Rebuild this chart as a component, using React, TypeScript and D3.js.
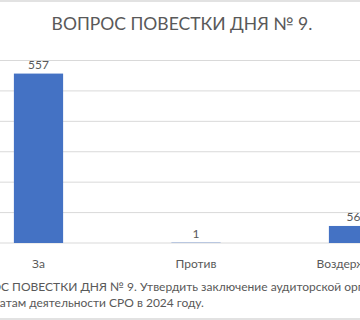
import React from "react";
import * as d3 from "d3";

const categories = ["За", "Против", "Воздержался"];
const values = [557, 1, 56];
const yTicks = [0, 100, 200, 300, 400, 500, 600];
const chartTitle = "ВОПРОС ПОВЕСТКИ ДНЯ № 9.";
const legendLines = [
  "ВОПРОС ПОВЕСТКИ ДНЯ № 9. Утвердить заключение аудиторской организации по",
  "результатам деятельности СРО в 2024 году.",
];

const W = 360;
const H = 320;
const FONT = "Lato, 'Open Sans', sans-serif";
const TEXT = "#595959";
const GRID = "#d9d9d9";
const BAR = "#4472C4";

export default function App() {
  const x = d3
    .scaleBand<string>()
    .domain(categories)
    .range([-40.25, 432.25])
    .paddingInner(0.6875)
    .paddingOuter(0.34375);
  const y = d3.scaleLinear().domain([0, 600]).range([243, 60.5]);

  return (
    <div style={{ position: "fixed", left: 0, top: 0, width: W, height: H, background: "#fff" }}>
      <svg width={W} height={H} style={{ display: "block", fontFamily: FONT }}>
        <rect x={0} y={0} width={W} height={H} fill="#fff" />
        <line x1={-10} x2={W + 10} y1={1} y2={1} stroke={GRID} strokeWidth={1.5} />
        <line x1={-10} x2={W + 10} y1={319} y2={319} stroke={GRID} strokeWidth={1.5} />
        <text x={182} y={30} textAnchor="middle" fontSize={17.5} fill={TEXT}>
          {chartTitle}
        </text>
        {yTicks.map((t) => (
          <line key={t} x1={-40} x2={432} y1={y(t)} y2={y(t)} stroke={GRID} strokeWidth={1} />
        ))}
        {categories.map((c, i) => {
          const v = values[i];
          const bx = x(c) as number;
          const bw = x.bandwidth();
          return (
            <g key={c}>
              <rect x={bx} y={y(v)} width={bw} height={y(0) - y(v)} fill={BAR} />
              <text x={bx + bw / 2} y={y(v) - 5} textAnchor="middle" fontSize={12} fill={TEXT}>
                {v}
              </text>
              <text x={bx + bw / 2} y={268} textAnchor="middle" fontSize={12} fill={TEXT}>
                {c}
              </text>
            </g>
          );
        })}
        {legendLines.map((l, i) => (
          <text key={i} x={-42} y={291 + i * 16} textAnchor="start" fontSize={12} fill={TEXT}>
            {l}
          </text>
        ))}
      </svg>
    </div>
  );
}
